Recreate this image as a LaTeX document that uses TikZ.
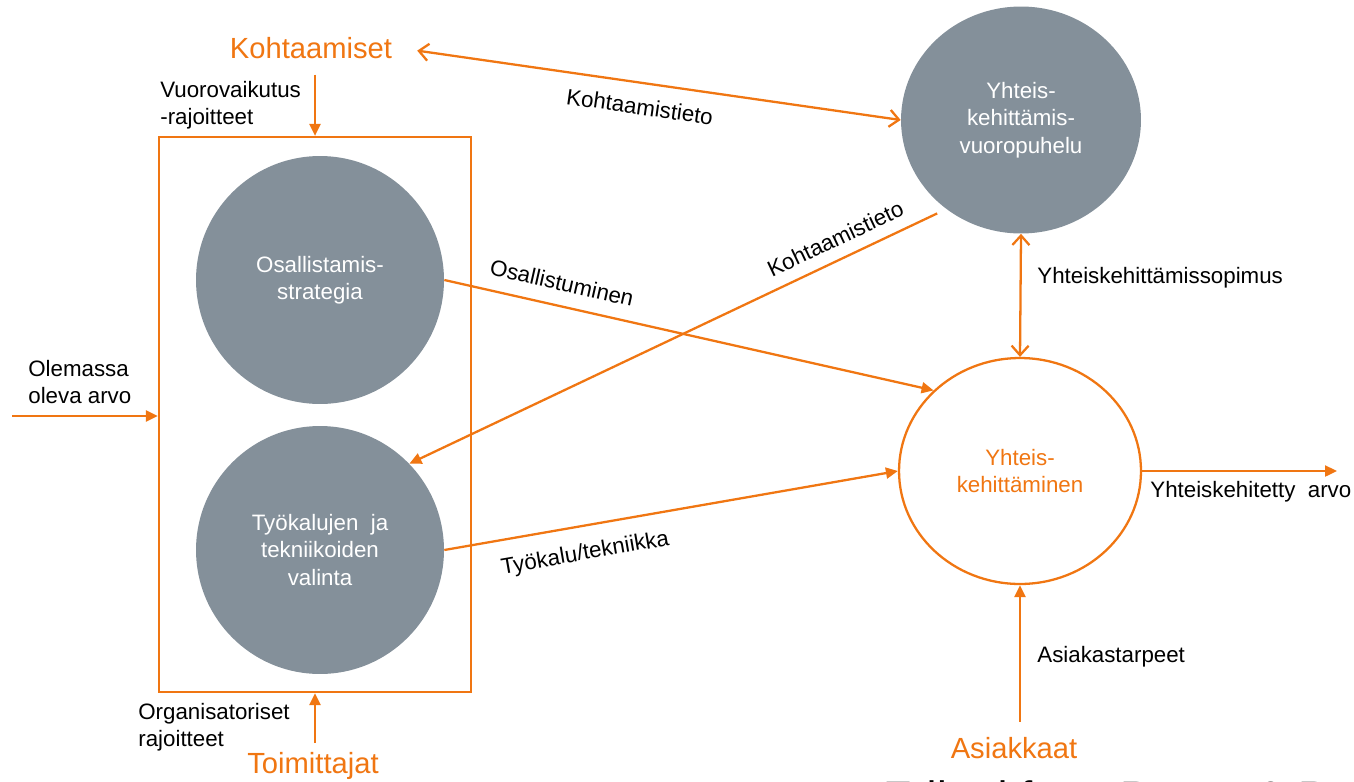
\documentclass[tikz,border=0pt]{standalone}
\usepackage{fontspec}
\setmainfont{Liberation Sans}
\usetikzlibrary{positioning,arrows.meta,shapes.geometric}
\definecolor{orng}{RGB}{240,118,18}
\definecolor{slate}{RGB}{132,144,154}

\begin{document}
\begin{tikzpicture}[x=0.02cm,y=-0.02cm]
 \tikzset{flow/.style={draw=orng,line width=1.3pt,-{Triangle[length=0.24cm,width=0.22cm]}},
  twoway/.style={draw=orng,line width=1.3pt,{Straight Barb[length=0.19cm,width=0.34cm]}-{Straight Barb[length=0.19cm,width=0.34cm]}},
  lbl/.style={inner sep=0pt,font=\fontsize{12.7}{15.6}\selectfont,align=left},
  bigorange/.style={inner sep=2pt,text=orng,font=\fontsize{16.6}{20}\selectfont},
  graydisk/.style={circle,fill=slate,text=white,minimum size=4.96cm,inner sep=0pt,align=center,font=\fontsize{12.7}{15.6}\selectfont},
  dialog/.style={ellipse,fill=slate,text=white,minimum width=4.8cm,minimum height=4.54cm,inner sep=0pt,align=center,font=\fontsize{12.7}{15.6}\selectfont}}
 \useasboundingbox (0,0) rectangle (1354,781);

 \node[draw=orng,line width=1.3pt,minimum width=6.24cm,minimum height=11.1cm] (box) at (315,414.5) {};
 \node[graydisk] (strat) at (320,280) {Osallistamis-\\strategia};
 \node[graydisk] (tool) at (320,550) {Työkalujen\ \ ja\\tekniikoiden\\valinta};
 \node[dialog] (dlg) at (1021,120) {Yhteis-\\kehittämis-\\vuoropuhelu};
 \node[ellipse,draw=orng,line width=1.3pt,text=orng,minimum width=4.84cm,minimum height=4.52cm,inner sep=0pt,align=center,font=\fontsize{12.7}{15.6}\selectfont] (yk) at (1020,471) {Yhteis-\\kehittäminen};

 \node[bigorange,anchor=base] (kohta) at (311,58) {Kohtaamiset};
 \node[bigorange,anchor=base] (toim) at (313,773) {Toimittajat};
 \node[bigorange,anchor=base] (asiak) at (1014,758) {Asiakkaat};
 \node[anchor=base west,inner sep=0pt,font=\fontsize{25}{30}\selectfont] (src) at (883,812.5) {Edited from Payne \& P};

 \node[lbl,anchor=north west] (vuoro) at (160,81) {Vuorovaikutus\\-rajoitteet};
 \node[lbl,anchor=north west] (olem) at (28,360) {Olemassa\\oleva arvo};
 \node[lbl,anchor=north west] (org) at (138,703) {Organisatoriset\\rajoitteet};
 \node[lbl,anchor=base west] (sopimus) at (1037,283) {Yhteiskehittämissopimus};
 \node[lbl,anchor=base west] (tarpeet) at (1037,662) {Asiakastarpeet};
 \node[lbl,anchor=base west] (arvo) at (1150,497) {Yhteiskehitetty\ \ arvo};

 \coordinate (olin) at (12,416);
 \coordinate (ulos) at (1337,471);

 \draw[flow,shorten <=0.25cm] (kohta.south -| box.north) -- (box.north);
 \draw[flow,shorten <=0.1cm] (toim.north -| box.south) -- (box.south);
 \draw[flow] (olin) -- (olin -| box.west);
 \draw[flow,shorten <=0.23cm] (asiak.north -| yk.south) -- (yk.south);
 \draw[flow] (yk.east) -- (ulos);
 \draw[twoway] (dlg.south) -- (yk.north);
 \draw[twoway,shorten <=0.43cm] (kohta.east) to node[lbl,sloped,pos=0.49,below=0.29cm] {Kohtaamistieto} (dlg.west);
 \draw[flow] (strat.east) to node[lbl,sloped,pos=0.23,above=0.28cm] {Osallistuminen} (yk.137);
 \draw[flow,shorten <=0.2cm] (dlg.230) to node[lbl,sloped,pos=0.19,above=0.23cm] {Kohtaamistieto} (tool.44);
 \draw[flow] (tool.east) to node[lbl,sloped,pos=0.30,below=0.33cm] {Työkalu/tekniikka} (yk.west);
\end{tikzpicture}
\end{document}
